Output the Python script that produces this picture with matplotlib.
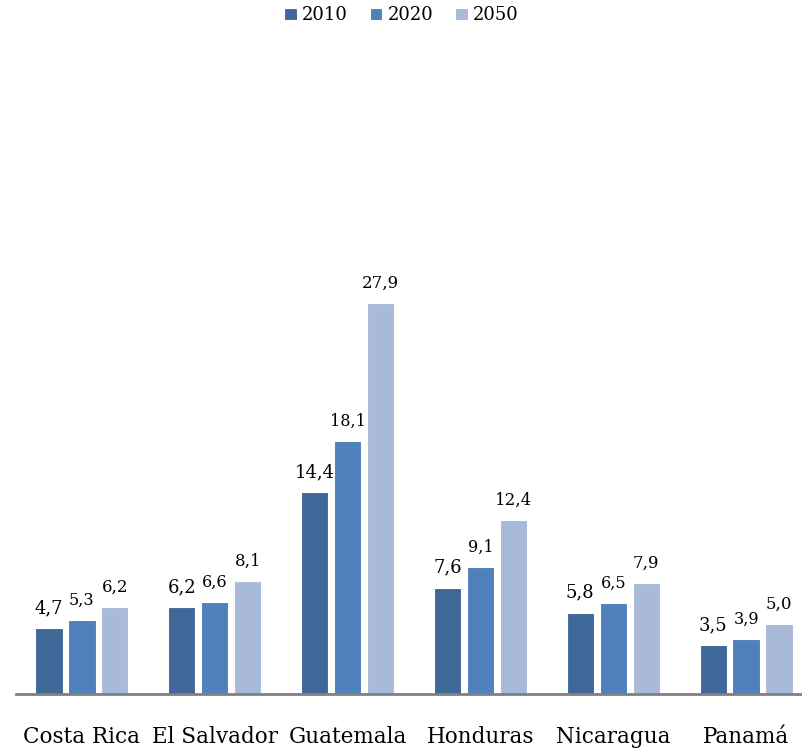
import numpy as np
import matplotlib
matplotlib.use("Agg")
import matplotlib.pyplot as plt

plt.rcParams['font.family'] = ['DejaVu Serif']

countries = ["Costa Rica", "El Salvador", "Guatemala", "Honduras", "Nicaragua", "Panamá"]
years = ["2010", "2020", "2050"]
v2010 = [4.7, 6.2, 14.4, 7.6, 5.8, 3.5]
v2020 = [5.3, 6.6, 18.1, 9.1, 6.5, 3.9]
v2050 = [6.2, 8.1, 27.9, 12.4, 7.9, 5.0]

series = [v2010, v2020, v2050]
colors = ['#3F6899', '#4F81BD', '#A9BAD8']
label_sizes = [13, 11.5, 12]

fig = plt.figure(figsize=(8.03, 7.52), dpi=100)
ax = fig.add_axes([15.5 / 803, 58 / 752, 797 / 803, 654 / 752])

x = np.arange(len(countries))
w = 0.205
for i, (vals, c) in enumerate(zip(series, colors)):
    pos = x + (i - 1) * 0.248
    bars = ax.bar(pos, vals, width=w, color=c, edgecolor='white', linewidth=0.8,
                  label=years[i], zorder=2)
    for b, v in zip(bars, vals):
        ax.annotate(f"{v:.1f}".replace('.', ','),
                    (b.get_x() + b.get_width() / 2, v),
                    xytext=(0, 8), textcoords='offset points',
                    ha='center', va='bottom', fontsize=label_sizes[i], color='black')

ax.set_xlim(-0.5, len(countries) - 0.5)
ax.set_ylim(0, 654 / 14.0)
ax.set_xticks(x)
ax.set_xticklabels(countries, fontsize=15.5)
ax.tick_params(axis='x', length=0, pad=23)
ax.set_yticks([])
for s in ['top', 'right', 'left']:
    ax.spines[s].set_visible(False)
ax.spines['bottom'].set_color('#808080')
ax.spines['bottom'].set_linewidth(2)

fig.legend(loc='upper center', bbox_to_anchor=(0.5, 1.013), ncol=3, frameon=False,
           fontsize=13, handlelength=0.7, handleheight=0.7, handletextpad=0.3,
           columnspacing=1.2)

fig.savefig("out.png", dpi=100)
